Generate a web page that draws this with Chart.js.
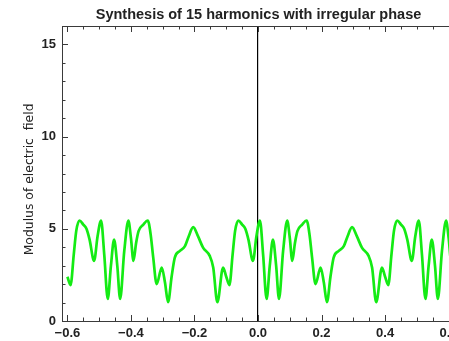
<!DOCTYPE html>
<html>
<head>
<meta charset="utf-8">
<script src="https://cdn.jsdelivr.net/npm/chart.js@4.4.1/dist/chart.umd.min.js"></script>
<style>
  html, body { margin: 0; padding: 0; overflow: hidden; background: #fff; }
  #wrap { width: 470px; height: 341px; }
</style>
</head>
<body>
<div id="wrap"><canvas id="plot"></canvas></div>
<script>
const xs = [
  -0.600, -0.590, -0.580, -0.572, -0.562, -0.550, -0.540, -0.530, -0.516, -0.505,
  -0.494, -0.484, -0.473, -0.463, -0.453, -0.443, -0.434, -0.421, -0.408, -0.400,
  -0.392, -0.384, -0.376, -0.361, -0.347, -0.338, -0.330, -0.319, -0.303, -0.293,
  -0.283, -0.272, -0.262, -0.246, -0.230, -0.218, -0.204, -0.189, -0.173, -0.152,
  -0.141, -0.128, -0.110,
  -0.100, -0.090, -0.080, -0.072, -0.062, -0.050, -0.040, -0.030, -0.016, -0.005,
   0.006,  0.016,  0.027,  0.037,  0.047,  0.057,  0.066,  0.079,  0.092,  0.100,
   0.108,  0.116,  0.124,  0.139,  0.153,  0.162,  0.170,  0.181,  0.197,  0.207,
   0.217,  0.228,  0.238,  0.254,  0.270,  0.282,  0.296,  0.311,  0.327,  0.348,
   0.359,  0.372,  0.390,
   0.400,  0.410,  0.420,  0.428,  0.438,  0.450,  0.460,  0.470,  0.484,  0.495,
   0.506,  0.516,  0.527,  0.537,  0.547,  0.557,  0.566,  0.579,  0.592,  0.600,
   0.608,  0.616
];
const modulus = [
  2.40, 1.95, 3.60, 4.90, 5.45, 5.23, 5.00, 4.40, 3.26, 4.60,
  5.45, 3.60, 1.20, 3.00, 4.42, 3.00, 1.20, 3.80, 5.45, 4.50,
  3.26, 4.20, 4.87, 5.23, 5.45, 4.70, 3.46, 2.00, 2.90, 2.10,
  1.02, 2.40, 3.44, 3.80, 4.06, 4.60, 5.09, 4.60, 3.98, 3.53,
  2.90, 1.02, 2.90,
  2.40, 1.95, 3.60, 4.90, 5.45, 5.23, 5.00, 4.40, 3.26, 4.60,
  5.45, 3.60, 1.20, 3.00, 4.42, 3.00, 1.20, 3.80, 5.45, 4.50,
  3.26, 4.20, 4.87, 5.23, 5.45, 4.70, 3.46, 2.00, 2.90, 2.10,
  1.02, 2.40, 3.44, 3.80, 4.06, 4.60, 5.09, 4.60, 3.98, 3.53,
  2.90, 1.02, 2.90,
  2.40, 1.95, 3.60, 4.90, 5.45, 5.23, 5.00, 4.40, 3.26, 4.60,
  5.45, 3.60, 1.20, 3.00, 4.42, 3.00, 1.20, 3.80, 5.45, 4.50,
  3.26, 4.20
];

const xTicks = [-0.6, -0.4, -0.2, 0.0, 0.2, 0.4, 0.6];
const xTickLabels = ['\u22120.6', '\u22120.4', '\u22120.2', '0.0', '0.2', '0.4', '0.6'];
const yTicks = [0, 5, 10, 15];
const yTickLabels = ['0', '5', '10', '15'];

const FONT = 'Liberation Sans, Arial, sans-serif'
const INK = '#222'
const FRAME = '#3a3a3a'

// frame with inward major/minor ticks, drawn on left, top and bottom
const frameTicks = {
  id: 'frameTicks',
  afterDatasetsDraw(chart){
    const {ctx, chartArea: a, scales: {x, y}} = chart
    ctx.save()
    ctx.strokeStyle = FRAME
    ctx.lineWidth = 1
    ctx.beginPath()
    ctx.moveTo(a.right, a.top + 0.5)
    ctx.lineTo(a.left + 0.5, a.top + 0.5)
    ctx.lineTo(a.left + 0.5, a.bottom + 0.5)
    ctx.lineTo(a.right, a.bottom + 0.5)
    ctx.stroke()
    ctx.beginPath()
    for(let i = -12; i <= 12; i++){
      const px = Math.round(x.getPixelForValue(i * 0.05)) + 0.5
      if(px < a.left + 1) continue
      const len = (i % 4 === 0) ? 6 : 3.5
      ctx.moveTo(px, a.bottom)
      ctx.lineTo(px, a.bottom - len)
      ctx.moveTo(px, a.top)
      ctx.lineTo(px, a.top + len)
    }
    for(let v = 0; v <= 16; v++){
      const py = Math.round(y.getPixelForValue(v)) + 0.5
      const len = (v % 5 === 0) ? 6 : 3.5
      ctx.moveTo(a.left, py)
      ctx.lineTo(a.left + len, py)
    }
    ctx.stroke()
    ctx.restore()
  }
}

const points = xs.map((v, i) => ({x: v, y: modulus[i]}))

new Chart(document.getElementById('plot'), {
  type: 'line',
  data: {
    datasets: [{
      data: points,
      borderColor: 'rgb(20,235,20)',
      borderWidth: 2.7,
      pointRadius: 0,
      cubicInterpolationMode: 'monotone',
      fill: false,
    }]
  },
  options: {
    responsive: true,
    maintainAspectRatio: false,
    animation: false,
    layout: { padding: { left: 0, right: 15, top: 0, bottom: 0 } },
    plugins: {
      legend: { display: false },
      tooltip: { enabled: false },
      title: {
        display: true,
        fullSize: false, // center over the plot area, not the canvas
        text: 'Synthesis of 15 harmonics with irregular phase',
        color: INK,
        font: { family: FONT, size: 14.5, weight: 'bold' },
        padding: { top: 6.5, bottom: 2.1 }
      }
    },
    scales: {
      x: {
        type: 'linear',
        min: -0.617,
        max: 0.62,
        afterBuildTicks: s => { s.ticks = xTicks.map(v => ({value: v})) },
        afterFit: s => { s.height = 20 },
        ticks: {
          color: INK,
          padding: 5,
          maxRotation: 0,
          autoSkip: false,
          font: { family: FONT, size: 13, weight: 'bold' },
          callback: (v, i) => xTickLabels[i]
        },
        grid: {
          drawTicks: false,
          lineWidth: 1.2,
          color: c => (c.tick && c.tick.value === 0) ? '#000' : 'rgba(0,0,0,0)'
        },
        border: { display: false }
      },
      y: {
        min: 0,
        max: 16,
        afterBuildTicks: s => { s.ticks = yTicks.map(v => ({value: v})) },
        afterFit: s => { s.width = 62 },
        ticks: {
          color: INK,
          padding: 6,
          autoSkip: false,
          font: { family: FONT, size: 13, weight: 'bold' },
          callback: (v, i) => yTickLabels[i]
        },
        grid: { display: false, drawTicks: false },
        border: { display: false },
        title: {
          display: true,
          text: 'Modulus of electric  field   ',
          color: INK,
          font: { family: 'DejaVu Sans, sans-serif', size: 12.4 },
          padding: { top: 22, bottom: 0 }
        }
      }
    }
  },
  plugins: [frameTicks]
});
</script>
</body>
</html>
